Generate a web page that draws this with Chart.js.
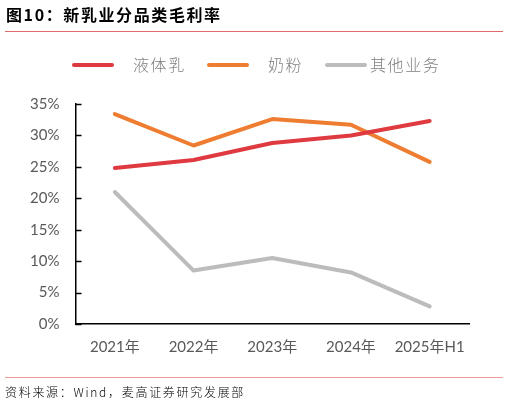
<!DOCTYPE html>
<html>
<head>
<meta charset="utf-8">
<script src="https://cdn.jsdelivr.net/npm/chart.js@4"></script>
<style>
  html, body { margin:0; padding:0; background:#fff; }
  body { width:508px; height:403px; position:relative; overflow:hidden; font-family:"Noto Sans CJK SC", sans-serif; }
  #title { position:absolute; left:6px; top:4px; font-size:16px; font-weight:700; color:#000; letter-spacing:1.6px; line-height:20px; white-space:nowrap; }
  #rule1 { position:absolute; left:5px; top:31px; width:498px; height:1px; background:#e06a6a; }
  #rule2 { position:absolute; left:5px; top:377px; width:498px; height:1px; background:#ee9a9a; }
  #source { position:absolute; left:5px; top:383px; font-size:12px; color:#000; letter-spacing:1.7px; line-height:18px; white-space:nowrap; font-family:"Noto Sans CJK SC", monospace; font-weight:300; }
  #wrap { position:absolute; left:0; top:0; width:508px; height:403px; }
  .lg-line { position:absolute; height:4px; border-radius:2px; top:63px; }
  .lg-text { position:absolute; top:54px; font-size:16px; line-height:20px; color:#7f7f7f; letter-spacing:1.6px; font-weight:300; white-space:nowrap; }
</style>
</head>
<body>
<div id="wrap"><canvas id="c" width="508" height="403"></canvas></div>
<div id="title">图10：新乳业分品类毛利率</div>
<div id="rule1"></div>
<div id="legend"></div>
<div id="rule2"></div>
<div id="source">资料来源：Wind，麦高证券研究发展部</div>
<script>
const categories = ["2021年", "2022年", "2023年", "2024年", "2025年H1"];
const seriesNames = ["液体乳", "奶粉", "其他业务"];
const liquidMilk = [24.8, 26.1, 28.8, 30.0, 32.3];
const milkPowder = [33.4, 28.4, 32.6, 31.7, 25.8];
const otherBusiness = [21.0, 8.5, 10.5, 8.2, 2.8];
const yTicks = [0, 5, 10, 15, 20, 25, 30, 35];

const colors = ["#df3a40", "#ee7d31", "#bcbcbc"];
const seriesData = [liquidMilk, milkPowder, otherBusiness];

// HTML legend
const legendPos = [[72, 133], [207, 268], [325, 370]];
const legend = document.getElementById("legend");
seriesNames.forEach((name, i) => {
  const l = document.createElement("div");
  l.className = "lg-line";
  l.style.left = legendPos[i][0] + "px";
  l.style.width = "42px";
  l.style.background = colors[i];
  legend.appendChild(l);
  const t = document.createElement("div");
  t.className = "lg-text";
  t.style.left = legendPos[i][1] + "px";
  t.textContent = name;
  legend.appendChild(t);
});

const innerTicks = {
  id: "innerTicks",
  afterDraw(chart) {
    const y = chart.scales.y;
    const ctx = chart.ctx;
    ctx.save();
    ctx.strokeStyle = "#000";
    ctx.lineWidth = 1.5;
    y.ticks.forEach(t => {
      const py = Math.round(y.getPixelForValue(t.value)) + 0.5;
      ctx.beginPath();
      ctx.moveTo(y.right, py);
      ctx.lineTo(y.right + 6, py);
      ctx.stroke();
    });
    ctx.restore();
  }
};

new Chart(document.getElementById("c"), {
  type: "line",
  data: {
    labels: categories,
    datasets: seriesNames.map((n, i) => ({
      label: n,
      data: seriesData[i],
      borderColor: colors[i],
      backgroundColor: colors[i],
      borderWidth: 4,
      pointRadius: 0,
      tension: 0,
      borderCapStyle: "round",
      borderJoinStyle: "round",
      fill: false
    }))
  },
  options: {
    responsive: false,
    animation: false,
    devicePixelRatio: 1,
    layout: { padding: { left: 0, top: 104, right: 39, bottom: 39 } },
    plugins: { legend: { display: false }, tooltip: { enabled: false } },
    scales: {
      x: {
        offset: true,
        grid: { display: false, drawTicks: false },
        border: { display: true, color: "#000", width: 1.5 },
        ticks: { color: "#595959", font: { family: "Lato, 'Noto Sans CJK SC'", size: 15 }, padding: 14, maxRotation: 0 },
        afterFit(s) { s.height = 40; }
      },
      y: {
        min: 0, max: 35,
        afterBuildTicks(s) { s.ticks = yTicks.map(v => ({ value: v })); },
        grid: { display: false, drawTicks: false },
        border: { display: true, color: "#000", width: 1.5 },
        ticks: { color: "#595959", font: { family: "Lato, 'Noto Sans'", size: 15 }, padding: 16, callback: v => v + "%" },
        afterFit(s) { s.width = 75.5; }
      }
    }
  },
  plugins: [innerTicks]
});
</script>
</body>
</html>
